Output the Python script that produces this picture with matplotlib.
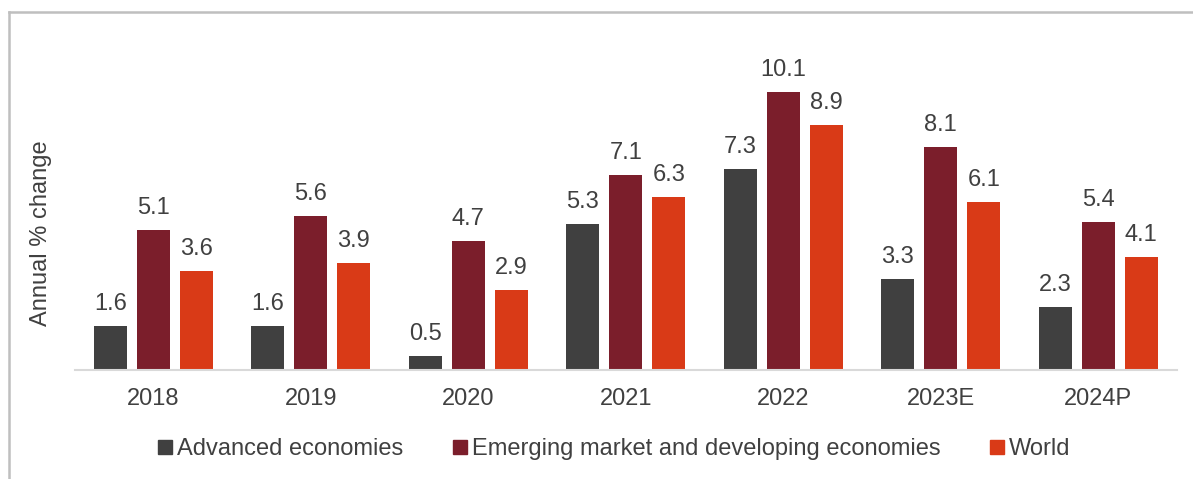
import matplotlib.pyplot as plt
import numpy as np
from matplotlib.lines import Line2D

plt.rcParams['font.family'] = ['Liberation Sans', 'DejaVu Sans']

years = ['2018', '2019', '2020', '2021', '2022', '2023E', '2024P']
advanced = [1.6, 1.6, 0.5, 5.3, 7.3, 3.3, 2.3]
emerging = [5.1, 5.6, 4.7, 7.1, 10.1, 8.1, 5.4]
world = [3.6, 3.9, 2.9, 6.3, 8.9, 6.1, 4.1]

series = [
    ('Advanced economies', advanced, '#404040'),
    ('Emerging market and developing economies', emerging, '#7B1E2B'),
    ('World', world, '#D93A17'),
]

W, H = 1193, 479
fig = plt.figure(figsize=(W / 100, H / 100), dpi=100)
ax = fig.add_axes([74.5 / W, 1 - 370 / H, (1177 - 74.5) / W, 330 / H])

txt = '#404040'
fs = 17
x = np.arange(len(years))
width = 0.21
step = 0.273
for i, (name, vals, col) in enumerate(series):
    pos = x + (i - 1) * step
    ax.bar(pos, vals, width, color=col, label=name)
    for p, v in zip(pos, vals):
        ax.text(p, v + 0.4, f'{v:.1f}', ha='center', va='bottom',
                fontsize=fs, color=txt)

ax.set_xlim(-0.5, len(years) - 0.5)
ax.set_ylim(0, 12)
ax.set_xticks(x)
ax.set_xticklabels(years, fontsize=fs, color=txt)
ax.tick_params(axis='x', length=0, pad=13)
ax.set_yticks([])
for s in ['top', 'right', 'left']:
    ax.spines[s].set_visible(False)
ax.spines['bottom'].set_color('#D9D9D9')
ax.spines['bottom'].set_linewidth(1.5)

fig.text(41 / W, 1 - 233 / H, 'Annual % change', rotation=90, ha='center',
         va='center', fontsize=fs, color=txt)

handles = [Line2D([], [], marker='s', linestyle='none', markersize=10,
                  color=c) for _, _, c in series]
fig.legend(handles, [n for n, _, _ in series], loc='center',
           bbox_to_anchor=(612 / W, 1 - 449 / H), ncol=3, frameon=False,
           fontsize=fs, labelcolor=txt, handletextpad=0.0,
           columnspacing=1.9, handlelength=1.0)

# outer frame (left and top edges)
fig.add_artist(Line2D([9 / W, 9 / W], [0, 1 - 11.5 / H],
                      transform=fig.transFigure, color='#BFBFBF', lw=1.8))
fig.add_artist(Line2D([9 / W, 1], [1 - 11.5 / H, 1 - 11.5 / H],
                      transform=fig.transFigure, color='#BFBFBF', lw=1.8))

fig.savefig('out.png', dpi=100)
